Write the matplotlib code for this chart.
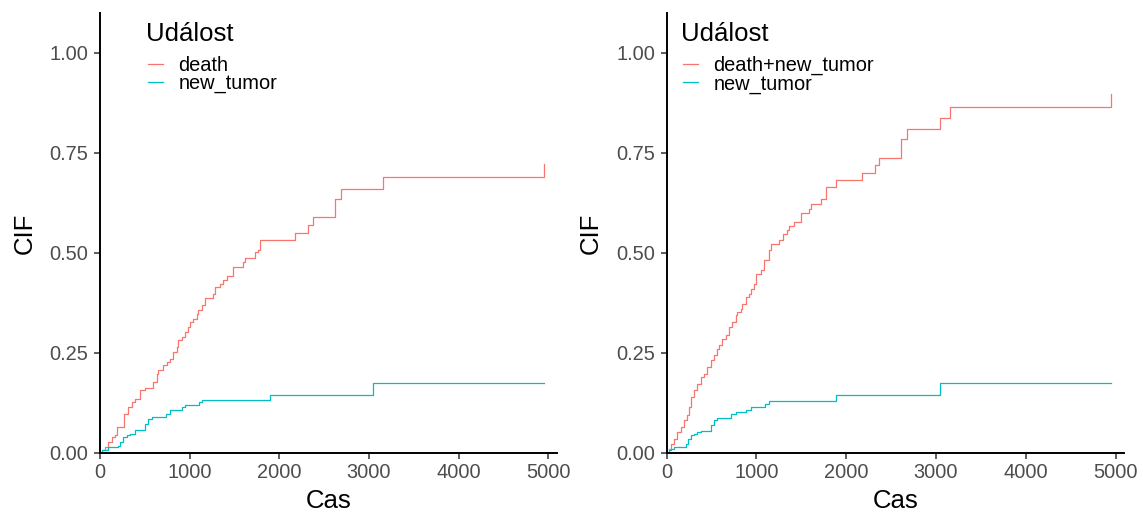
import matplotlib
matplotlib.use("Agg")
import matplotlib.pyplot as plt

plt.rcParams['font.family'] = ['Liberation Sans', 'DejaVu Sans']

RED = "#F8766D"
CYAN = "#00BFC4"

# ---- Left panel data: event "death" and "new_tumor" ----
left_death_t = [0, 19, 56, 93, 130, 167, 186, 271, 316, 353, 390, 446, 502, 595, 632, 650,
                706, 743, 780, 818, 855, 873, 910, 948, 985, 1004, 1041, 1078, 1097, 1134,
                1171, 1264, 1282, 1338, 1375, 1412, 1487, 1598, 1617, 1728, 1766, 1784,
                2174, 2323, 2379, 2620, 2683, 3155, 4952]
left_death_v = [0.0, 0.007, 0.015, 0.027, 0.040, 0.044, 0.065, 0.098, 0.115, 0.127, 0.136,
                0.157, 0.163, 0.177, 0.198, 0.207, 0.219, 0.227, 0.236, 0.252, 0.265, 0.282,
                0.290, 0.303, 0.315, 0.328, 0.336, 0.348, 0.357, 0.369, 0.388, 0.398, 0.415,
                0.423, 0.433, 0.442, 0.465, 0.477, 0.488, 0.502, 0.507, 0.532, 0.550, 0.570,
                0.590, 0.636, 0.661, 0.690, 0.722]

left_tumor_t = [0, 18, 93, 204, 223, 260, 297, 334, 390, 502, 539, 576, 732, 780, 910, 948,
                1107, 1141, 1895, 3050, 4952]
left_tumor_v = [0.0, 0.007, 0.015, 0.018, 0.027, 0.040, 0.044, 0.048, 0.057, 0.072, 0.085,
                0.090, 0.098, 0.107, 0.115, 0.119, 0.127, 0.133, 0.146, 0.174, 0.174]

# ---- Right panel data: event "death+new_tumor" and "new_tumor" ----
right_comb_t = [0, 26, 44, 81, 119, 156, 193, 230, 249, 267, 304, 342, 379, 416, 453, 490,
                527, 565, 583, 620, 658, 695, 732, 769, 788, 825, 843, 881, 918, 937, 974,
                992, 1048, 1085, 1141, 1159, 1252, 1290, 1345, 1364, 1420, 1494, 1587, 1606,
                1717, 1773, 1780, 1884, 2170, 2319, 2360, 2609, 2679, 3040, 3160, 4952]
right_comb_v = [0.0, 0.011, 0.023, 0.036, 0.052, 0.065, 0.082, 0.094, 0.115, 0.140, 0.157,
                0.173, 0.190, 0.198, 0.215, 0.232, 0.244, 0.261, 0.269, 0.286, 0.294, 0.315,
                0.327, 0.344, 0.352, 0.361, 0.373, 0.390, 0.398, 0.411, 0.423, 0.448, 0.457,
                0.482, 0.507, 0.522, 0.532, 0.548, 0.557, 0.567, 0.577, 0.600, 0.611, 0.623,
                0.636, 0.657, 0.665, 0.682, 0.700, 0.719, 0.738, 0.786, 0.811, 0.838, 0.865,
                0.898]

right_tumor_t = [0, 26, 44, 81, 211, 238, 267, 304, 342, 379, 490, 527, 565, 721, 769, 888,
                 937, 1093, 1141, 1888, 3040, 4952]
right_tumor_v = [0.0, 0.007, 0.011, 0.015, 0.023, 0.036, 0.044, 0.048, 0.052, 0.056, 0.069,
                 0.082, 0.088, 0.098, 0.102, 0.108, 0.115, 0.122, 0.130, 0.145, 0.174, 0.174]

x_ticks = [0, 1000, 2000, 3000, 4000, 5000]
y_ticks = [0.0, 0.25, 0.5, 0.75, 1.0]
y_ticklabels = ["0.00", "0.25", "0.50", "0.75", "1.00"]
legend_title = "Událost"
left_labels = ["death", "new_tumor"]
right_labels = ["death+new_tumor", "new_tumor"]

W, H = 1143, 517
fig = plt.figure(figsize=(W / 100, H / 100), dpi=100)

def px_axes(x0, x1, y_top, y_bot):
    return fig.add_axes([x0 / W, 1 - y_bot / H, (x1 - x0) / W, (y_bot - y_top) / H])

axL = px_axes(100, 556.7, 13, 453)
axR = px_axes(666.7, 1124, 13, 453)

panels = [
    (axL, left_death_t, left_death_v, left_tumor_t, left_tumor_v, left_labels, 0.1005, 0.1058),
    (axR, right_comb_t, right_comb_v, right_tumor_t, right_tumor_v, right_labels, 0.0310, 0.0363),
]

for ax, t1, v1, t2, v2, labels, tx, lx in panels:
    l1, = ax.plot(t1, v1, drawstyle="steps-post", color=RED, lw=0.9)
    l2, = ax.plot(t2, v2, drawstyle="steps-post", color=CYAN, lw=0.9)
    ax.set_xlim(0, 5094)
    ax.set_ylim(0, 1.1)
    ax.set_xticks(x_ticks)
    ax.set_xticklabels([str(v) for v in x_ticks])
    ax.set_yticks(y_ticks)
    ax.set_yticklabels(y_ticklabels)
    for s in ["top", "right"]:
        ax.spines[s].set_visible(False)
    for s in ["left", "bottom"]:
        ax.spines[s].set_linewidth(1.4)
        ax.spines[s].set_color("black")
    ax.tick_params(axis="both", length=4, width=1.1, color="#333333",
                   labelcolor="#4D4D4D", labelsize=14.4)
    ax.tick_params(axis="y", pad=4.3)
    ax.tick_params(axis="x", pad=3)
    ax.set_xlabel("Cas", fontsize=18.5, color="black", labelpad=5.5)
    ax.set_ylabel("CIF", fontsize=18.5, color="black", labelpad=9.5)
    ax.text(tx, (453 - 41) / 440, legend_title, transform=ax.transAxes,
            fontsize=18.5, ha="left", va="baseline", color="black")
    leg = ax.legend([l1, l2], labels, loc="center left",
                    bbox_to_anchor=(lx, (453 - 74.8) / 440), frameon=False, fontsize=14.4,
                    handlelength=0.75, handletextpad=0.75, labelspacing=-0.05,
                    borderpad=0, borderaxespad=0)
    for h in leg.get_lines():
        h.set_linewidth(0.9)

fig.savefig("out.png", dpi=100)
